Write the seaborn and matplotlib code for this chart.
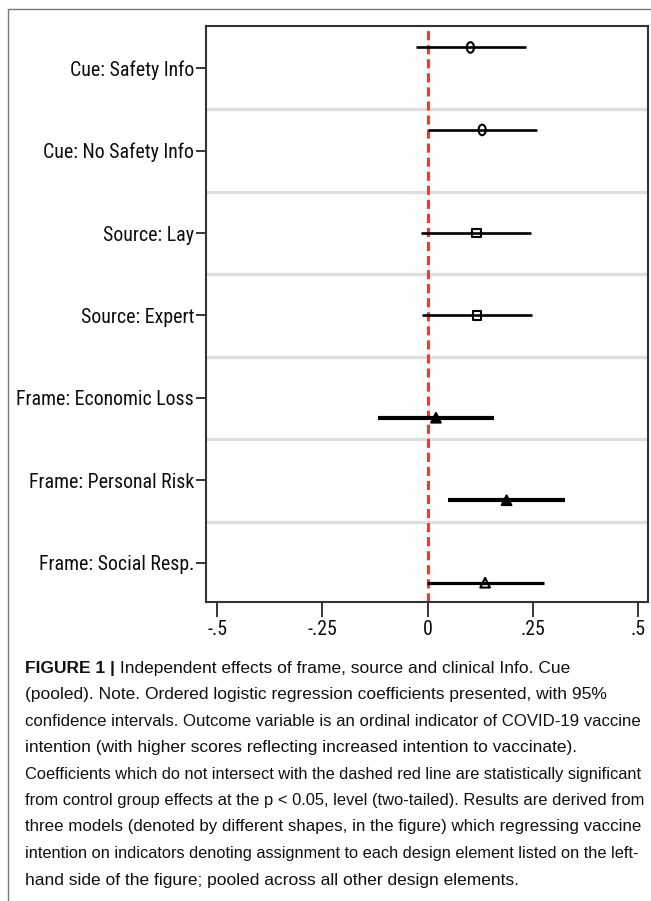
import numpy as np
import pandas as pd
import matplotlib
matplotlib.use('Agg')
import matplotlib.pyplot as plt
from matplotlib.path import Path
from matplotlib.transforms import Affine2D
from matplotlib.lines import Line2D
from matplotlib import font_manager
import seaborn as sns

# values
labels = ['Cue: Safety Info', 'Cue: No Safety Info', 'Source: Lay', 'Source: Expert',
          'Frame: Economic Loss', 'Frame: Personal Risk', 'Frame: Social Resp.']
model = ['Cue', 'Cue', 'Source', 'Source', 'Frame', 'Frame', 'Frame']
coef = [0.102, 0.130, 0.116, 0.118, 0.020, 0.188, 0.137]
ci_low = [-0.028, 0.000, -0.015, -0.012, -0.119, 0.049, -0.002]
ci_high = [0.234, 0.261, 0.245, 0.248, 0.159, 0.326, 0.277]

x_ticks = [-0.5, -0.25, 0, 0.25, 0.5]
x_tick_labels = ['-.5', '-.25', '0', '.25', '.5']

caption_head = 'FIGURE 1 |'
caption_lines = [
    ' Independent effects of frame, source and clinical Info. Cue',
    '(pooled). Note. Ordered logistic regression coefficients presented, with 95%',
    'confidence intervals. Outcome variable is an ordinal indicator of COVID-19 vaccine',
    'intention (with higher scores reflecting increased intention to vaccinate).',
    'Coefficients which do not intersect with the dashed red line are statistically significant',
    'from control group effects at the p < 0.05, level (two-tailed). Results are derived from',
    'three models (denoted by different shapes, in the figure) which regressing vaccine',
    'intention on indicators denoting assignment to each design element listed on the left-',
    'hand side of the figure; pooled across all other design elements.',
]

df = pd.DataFrame({'label': labels, 'model': model, 'coef': coef,
                   'lo': ci_low, 'hi': ci_high})
df['row'] = np.arange(len(df))
# each model's estimates are nudged off the row line, like coefplot does
offset = {'Cue': -0.25, 'Source': 0.0, 'Frame': 0.24}
df['y'] = df['row'] + df['model'].map(offset)

sns.set_style('ticks')
installed = {f.name for f in font_manager.fontManager.ttflist}
cands = ['Liberation Sans Narrow', 'Roboto Condensed', 'DejaVu Sans Condensed',
         'Open Sans Condensed', 'Liberation Sans']
narrow = next((c for c in cands if c in installed), 'DejaVu Sans')
plt.rcParams['font.family'] = ['Liberation Sans', 'DejaVu Sans']

W, H = 651, 901
fig = plt.figure(figsize=(W / 100, H / 100), dpi=100)
ax = fig.add_axes([206 / W, 1 - 601.7 / H, (648 - 206) / W, (601.7 - 26) / H])

for sep in np.arange(0.5, len(labels) - 1, 1.0):
    ax.axhline(sep, color='#dedede', lw=2.4, zorder=1)
ax.axvline(0, color='#f03c2c', lw=2.2, dashes=(3, 1.6), zorder=2)

ci_lw = [1.9, 1.9, 1.9, 1.9, 3.0, 3.0, 2.3]
ax.hlines(df['y'], df['lo'], df['hi'], colors='black', lw=ci_lw, zorder=3)

ellipse = Path.unit_circle().transformed(Affine2D().scale(0.68, 1.0))
sns.scatterplot(data=df, x='coef', y='y', style='model', size='model',
                markers={'Cue': ellipse, 'Source': 's', 'Frame': '^'},
                sizes={'Cue': 58, 'Source': 38, 'Frame': 48},
                legend=False, ax=ax, zorder=4)
pts = ax.collections[-1]
pts.set_facecolor(['none', 'none', 'none', 'none', 'black', 'black', 'none'])
pts.set_edgecolor('black')
pts.set_linewidth(1.5)

ax.set_yticks(df['row'], labels, family=[narrow, 'DejaVu Sans'])
ax.set_xticks(x_ticks, x_tick_labels, family=[narrow, 'DejaVu Sans'])
ax.set_xlim(-0.527, 0.5245)
ax.set_ylim(6.47, -0.51)
ax.set_xlabel('')
ax.set_ylabel('')
ax.tick_params(axis='y', length=7, width=1.3, pad=1.5, labelsize=15, labelcolor='#0d0d0d')
ax.tick_params(axis='x', length=11, width=1.3, pad=2.5, labelsize=15, labelcolor='#0d0d0d')
for s in ax.spines.values():
    s.set_linewidth(1.5)
    s.set_color('#333333')

# page frame around the figure
fx, fy = 7.5 / W, 1 - 8.5 / H
fig.add_artist(Line2D([fx, 1], [fy, fy], transform=fig.transFigure, color='#777777', lw=1))
fig.add_artist(Line2D([fx, fx], [0, fy], transform=fig.transFigure, color='#777777', lw=1))

# caption
cap_x = 25 / W
cap_size = 12.5
line_y = [668 + 26.5 * i for i in range(len(caption_lines))]
head = fig.text(cap_x, 1 - line_y[0] / H, caption_head, fontsize=cap_size,
                fontweight='bold', va='center', ha='left', color='#111111')
texts = [ax.annotate(caption_lines[0], xy=(1, 0), xycoords=head, va='bottom',
                     ha='left', fontsize=cap_size, color='#111111',
                     annotation_clip=False)]
for yy, line in zip(line_y[1:], caption_lines[1:]):
    texts.append(fig.text(cap_x, 1 - yy / H, line, fontsize=cap_size,
                          va='center', ha='left', color='#111111'))

renderer = fig.canvas.get_renderer()

# fit the tick label size so the longest row label spans the same width as the reference
widest = max(t.get_window_extent(renderer).width for t in ax.get_yticklabels())
tick_size = min(16, 15 * 178 / widest)
ax.tick_params(axis='both', labelsize=tick_size)

# shrink caption lines that would run past the right margin
for t in texts[1:]:
    bb = t.get_window_extent(renderer)
    if bb.x1 > 641:
        t.set_fontsize(cap_size * (641 - bb.x0) / (bb.x1 - bb.x0))

fig.savefig('out.png', dpi=100)
plt.close(fig)
